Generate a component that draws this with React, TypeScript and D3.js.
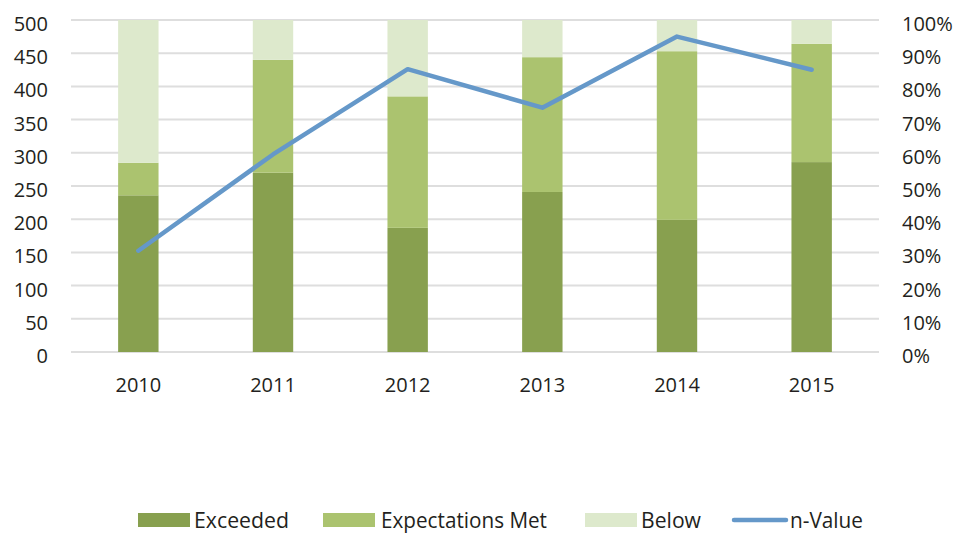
import { useEffect, useRef } from "react";
import * as d3 from "d3";

const years = ["2010", "2011", "2012", "2013", "2014", "2015"];
const exceeded = [236, 270, 187, 241, 199, 286];
const expectationsMet = [49, 170, 198, 203, 254, 178];
const below = [215, 60, 115, 56, 47, 36];
const nValue = [0.305, 0.595, 0.852, 0.736, 0.95, 0.85];

const leftTicks = [0, 50, 100, 150, 200, 250, 300, 350, 400, 450, 500];
const rightTicks = [0, 0.1, 0.2, 0.3, 0.4, 0.5, 0.6, 0.7, 0.8, 0.9, 1];

const seriesNames = ["Exceeded", "Expectations Met", "Below"];
const seriesColors = ["#88a04f", "#abc36f", "#dde9cc"];
const lineColor = "#6598c9";

const App = () => {
  const svgRef = useRef<SVGSVGElement | null>(null);

  useEffect(() => {
    const width = 957;
    const height = 533;
    const margin = { left: 71, right: 78, top: 20, bottom: 181 };

    const svg = d3.select(svgRef.current);
    svg.selectAll("*").remove();
    svg.attr("width", width).attr("height", height);

    const font = "'Open Sans', 'Noto Sans', sans-serif";
    const textColor = "#231f20";
    const fontSize = 20;

    const x = d3
      .scaleBand()
      .domain(years)
      .range([margin.left, width - margin.right])
      .paddingInner(0.7)
      .paddingOuter(0.35);

    const y = d3
      .scaleLinear()
      .domain([0, 500])
      .range([height - margin.bottom, margin.top]);

    const yRight = d3
      .scaleLinear()
      .domain([0, 1])
      .range([height - margin.bottom, margin.top]);

    // gridlines
    svg
      .append("g")
      .selectAll("line")
      .data(leftTicks)
      .join("line")
      .attr("x1", margin.left)
      .attr("x2", width - margin.right)
      .attr("y1", (d) => y(d))
      .attr("y2", (d) => y(d))
      .attr("stroke", "#dedede")
      .attr("stroke-width", 2);

    // left axis labels
    svg
      .append("g")
      .selectAll("text")
      .data(leftTicks)
      .join("text")
      .attr("x", 48)
      .attr("y", (d) => y(d) + 11)
      .attr("text-anchor", "end")
      .attr("font-family", font)
      .attr("font-size", fontSize)
      .attr("fill", textColor)
      .text((d) => String(d));

    // right axis labels
    svg
      .append("g")
      .selectAll("text")
      .data(rightTicks)
      .join("text")
      .attr("x", 902)
      .attr("y", (d) => yRight(d) + 11)
      .attr("text-anchor", "start")
      .attr("font-family", font)
      .attr("font-size", fontSize)
      .attr("fill", textColor)
      .text((d) => d3.format(".0%")(d));

    // stacked bars
    const table = years.map((yr, i) => ({
      year: yr,
      Exceeded: exceeded[i],
      "Expectations Met": expectationsMet[i],
      Below: below[i],
    }));
    const stack = d3.stack<any>().keys(seriesNames)(table);

    stack.forEach((layer, li) => {
      svg
        .append("g")
        .attr("fill", seriesColors[li])
        .selectAll("rect")
        .data(layer)
        .join("rect")
        .attr("x", (d) => x(d.data.year)!)
        .attr("width", x.bandwidth())
        .attr("y", (d) => y(d[1]))
        .attr("height", (d) => y(d[0]) - y(d[1]));
    });

    // n-Value line
    const line = d3
      .line<number>()
      .x((_, i) => x(years[i])! + x.bandwidth() / 2)
      .y((d) => yRight(d));

    svg
      .append("path")
      .attr("d", line(nValue) || "")
      .attr("fill", "none")
      .attr("stroke", lineColor)
      .attr("stroke-width", 4.5)
      .attr("stroke-linejoin", "round")
      .attr("stroke-linecap", "round");

    // year labels
    svg
      .append("g")
      .selectAll("text")
      .data(years)
      .join("text")
      .attr("x", (d) => x(d)! + x.bandwidth() / 2)
      .attr("y", 392)
      .attr("text-anchor", "middle")
      .attr("font-family", font)
      .attr("font-size", fontSize)
      .attr("fill", textColor)
      .text((d) => d);

    // legend
    const legend = svg.append("g");
    const legendItems = [
      { name: "Exceeded", x: 138, tx: 194, w: 95, color: seriesColors[0], kind: "rect" },
      { name: "Expectations Met", x: 323, tx: 381, w: 166, color: seriesColors[1], kind: "rect" },
      { name: "Below", x: 585, tx: 641, w: 60, color: seriesColors[2], kind: "rect" },
      { name: "n-Value", x: 732, tx: 790, w: 73, color: lineColor, kind: "line" },
    ];
    legendItems.forEach((item) => {
      if (item.kind === "rect") {
        legend
          .append("rect")
          .attr("x", item.x)
          .attr("y", 513)
          .attr("width", 52)
          .attr("height", 14)
          .attr("fill", item.color);
      } else {
        legend
          .append("line")
          .attr("x1", item.x + 2)
          .attr("x2", item.x + 54)
          .attr("y1", 520)
          .attr("y2", 520)
          .attr("stroke", item.color)
          .attr("stroke-width", 4.5)
          .attr("stroke-linecap", "round");
      }
      legend
        .append("text")
        .attr("x", item.tx)
        .attr("y", 528)
        .attr("font-family", font)
        .attr("font-size", 21)
        .attr("textLength", item.w)
        .attr("lengthAdjust", "spacingAndGlyphs")
        .attr("fill", textColor)
        .text(item.name);
    });
  }, []);

  return (
    <svg
      ref={svgRef}
      style={{ position: "absolute", left: 0, top: 0, display: "block" }}
    />
  );
};

export default App;
